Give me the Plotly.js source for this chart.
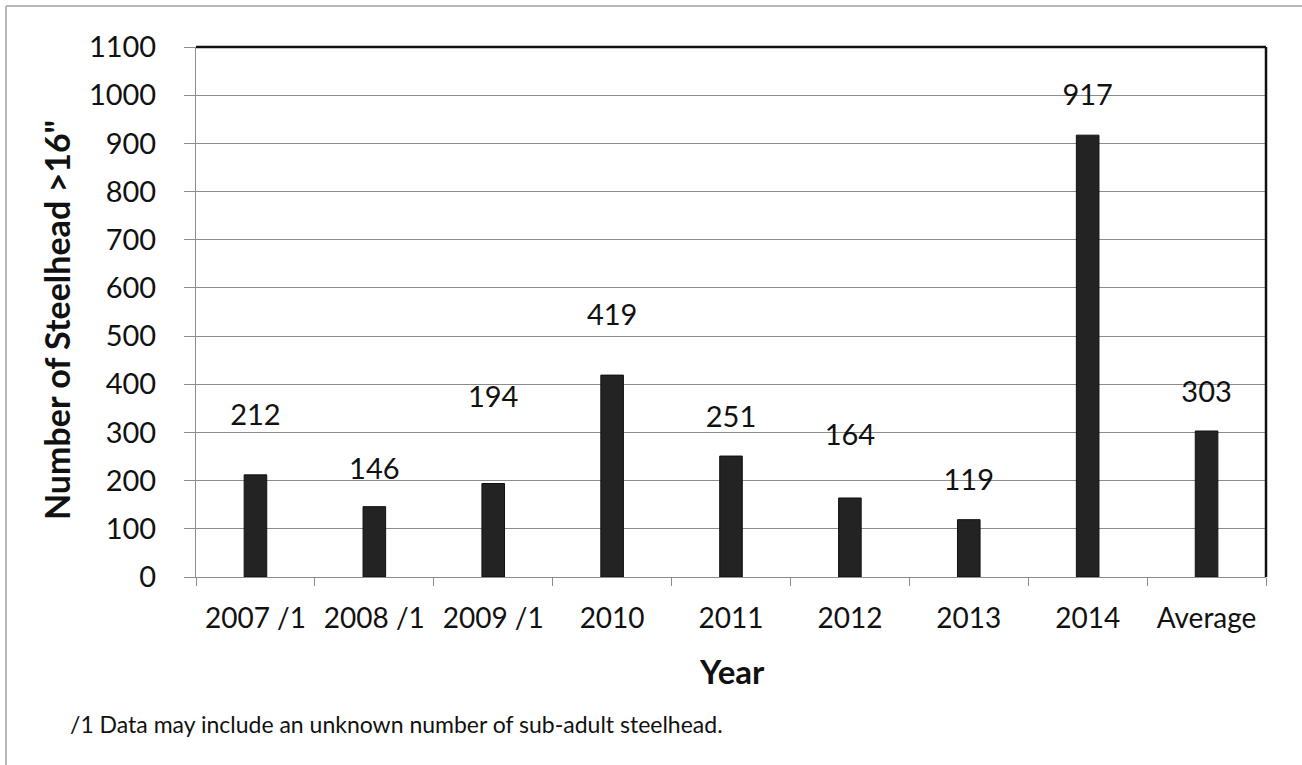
<!DOCTYPE html>
<html>
<head>
<meta charset="utf-8">
<script src="https://cdn.plot.ly/plotly-3.0.1.min.js"></script>
<style>
  html, body { margin: 0; padding: 0; background: #ffffff; }
  #chart { width: 1302px; height: 765px; }
</style>
</head>
<body>
<div id="chart"></div>
<script>
// Steelhead counts by year
const years = ['2007 /1', '2008 /1', '2009 /1', '2010', '2011', '2012', '2013', '2014', 'Average'];
const counts = [212, 146, 194, 419, 251, 164, 119, 917, 303];
// height (in axis units) at which each count label sits
const labelY = [330, 218, 367, 538, 326, 288, 195, 994, 378];
const yTicks = [0, 100, 200, 300, 400, 500, 600, 700, 800, 900, 1000, 1100];

const W = 1302, H = 765;
const M = { l: 196, r: 36, t: 47, b: 188 };
const plotW = W - M.l - M.r, plotH = H - M.t - M.b;
const px2x = px => (px - M.l) / plotW;
const px2y = py => (H - M.b - py) / plotH;

const FONT = 'Lato, "Open Sans", sans-serif';
const GRID = '#8c8c8c';

const bars = {
  type: 'bar',
  x: years,
  y: counts,
  width: 0.19,
  marker: { color: '#232323', line: { color: '#111111', width: 1 } },
  hoverinfo: 'x+y',
  showlegend: false
};

const labels = {
  type: 'scatter',
  mode: 'text',
  x: years,
  y: labelY,
  text: counts.map(String),
  textposition: 'middle center',
  textfont: { family: FONT, size: 29, color: '#111111' },
  hoverinfo: 'skip',
  showlegend: false,
  cliponaxis: false
};

const layout = {
  width: W,
  height: H,
  margin: M,
  paper_bgcolor: '#ffffff',
  plot_bgcolor: '#ffffff',
  font: { family: FONT, color: '#111111' },
  showlegend: false,
  xaxis: {
    type: 'category',
    categoryorder: 'array',
    categoryarray: years,
    showline: true,
    linecolor: GRID,
    linewidth: 1,
    ticks: 'outside',
    tickson: 'boundaries',
    ticklen: 8,
    tickcolor: GRID,
    tickwidth: 1,
    showgrid: false,
    tickfont: { family: FONT, size: 28, color: '#111111' },
    ticklabelstandoff: 16,
    fixedrange: true
  },
  yaxis: {
    range: [0, 1100],
    tickvals: yTicks,
    ticktext: yTicks.map(String),
    showline: true,
    linecolor: GRID,
    linewidth: 1,
    ticks: 'outside',
    ticklen: 11,
    tickcolor: GRID,
    tickwidth: 1,
    showgrid: true,
    gridcolor: GRID,
    gridwidth: 1,
    zeroline: false,
    tickfont: { family: FONT, size: 29, color: '#111111' },
    ticklabelstandoff: 22,
    fixedrange: true
  },
  annotations: [
    {
      text: '<b>Number of Steelhead >16"</b>',
      xref: 'paper', yref: 'paper',
      x: px2x(56), y: px2y(320),
      xanchor: 'center', yanchor: 'middle',
      textangle: -90,
      showarrow: false,
      font: { family: FONT, size: 34, color: '#111111' }
    },
    {
      text: '<b>Year</b>',
      xref: 'paper', yref: 'paper',
      x: px2x(732), y: px2y(671),
      xanchor: 'center', yanchor: 'middle',
      showarrow: false,
      font: { family: FONT, size: 33, color: '#111111' }
    },
    {
      text: '/1 Data may include an unknown number of sub-adult steelhead.',
      xref: 'paper', yref: 'paper',
      x: px2x(68), y: px2y(724),
      xanchor: 'left', yanchor: 'middle',
      showarrow: false,
      font: { family: FONT, size: 23, color: '#111111' }
    }
  ],
  shapes: [
    // heavy frame on the top and right of the plot area
    { type: 'line', xref: 'paper', yref: 'paper', x0: 0, x1: 1, y0: 1, y1: 1,
      line: { color: '#111111', width: 2.5 } },
    { type: 'line', xref: 'paper', yref: 'paper', x0: 1, x1: 1, y0: 0, y1: 1,
      line: { color: '#111111', width: 2.5 } },
    // thin outer frame along the page's left and top edges
    { type: 'line', xref: 'paper', yref: 'paper', x0: px2x(6), x1: px2x(6), y0: px2y(6), y1: px2y(765),
      line: { color: '#a0a0a0', width: 1.5 } },
    { type: 'line', xref: 'paper', yref: 'paper', x0: px2x(6), x1: px2x(1302), y0: px2y(6), y1: px2y(6),
      line: { color: '#a0a0a0', width: 1.5 } }
  ]
};

Plotly.newPlot('chart', [bars, labels], layout, { staticPlot: true, displayModeBar: false });
</script>
</body>
</html>
